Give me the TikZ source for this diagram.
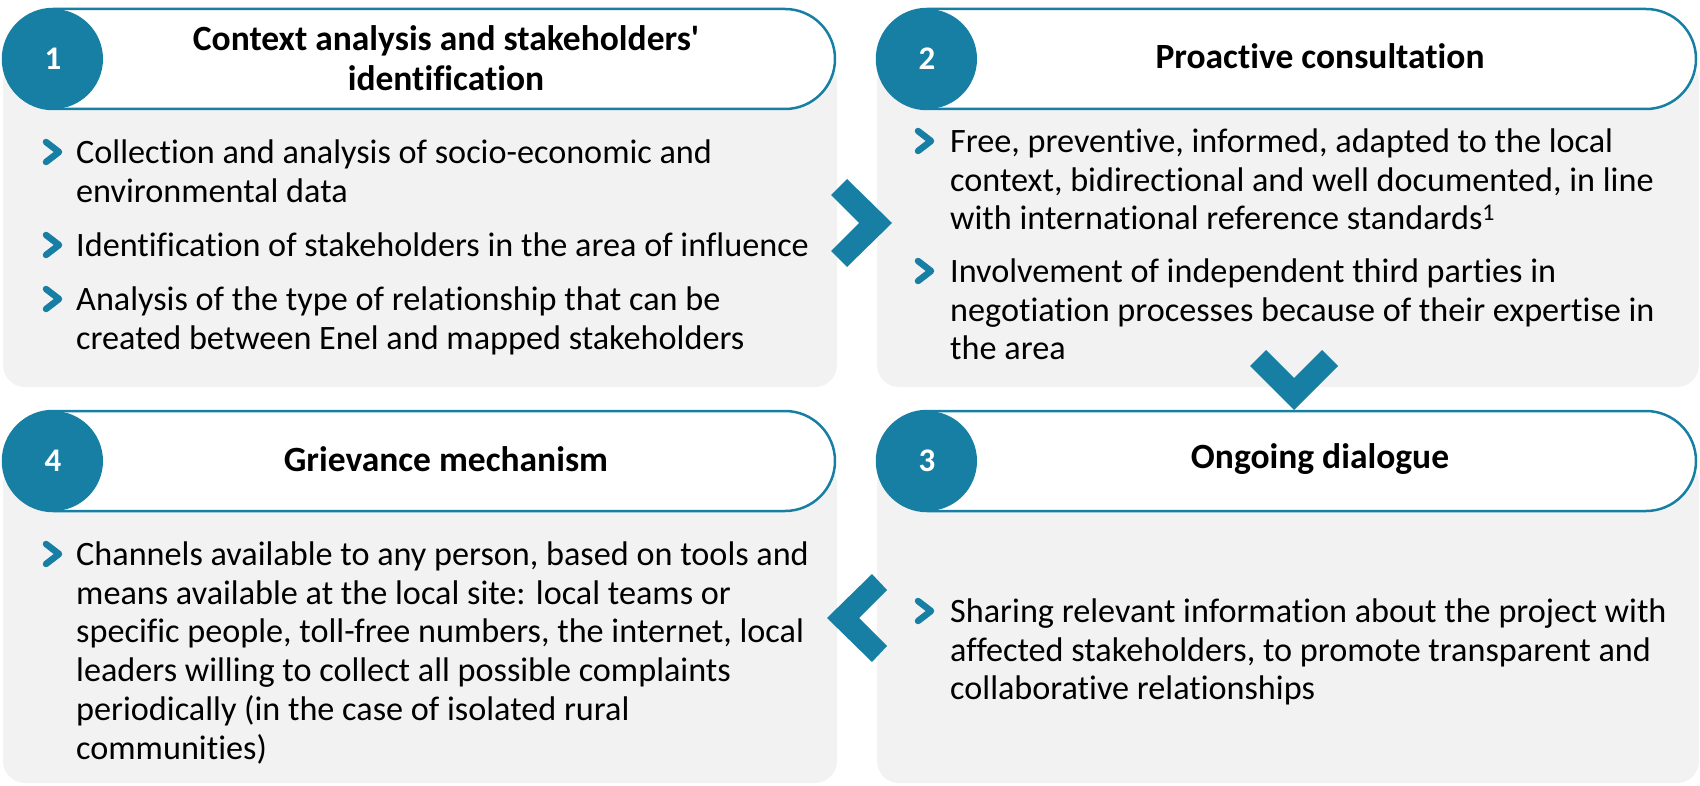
\documentclass[tikz,border=0pt]{standalone}
\usepackage{fontspec}
\setmainfont{Carlito}[Ligatures={TeX,NoCommon}]
\definecolor{stepteal}{RGB}{22,127,163}
\definecolor{cardgrey}{RGB}{242,242,242}
\tikzset{
  card/.style={fill=cardgrey,rounded corners=22pt},
  pill/.style={fill=white,draw=stepteal,line width=2.5pt,rounded corners=50pt},
  num/.style={circle,fill=stepteal,minimum size=100pt,inner sep=0pt,text=white,font=\fontsize{33}{36}\selectfont\bfseries},
  head/.style={align=center,inner sep=0pt,font=\fontsize{35.5}{39.5}\selectfont\bfseries},
  item/.style={anchor=north west,align=left,inner sep=0pt,font=\fontsize{34.2}{38.8}\selectfont},
  bul/.style={draw=stepteal,line width=6.5pt,line cap=round,line join=round},
  chev/.style={fill=stepteal}
}
\newcommand{\bulat}[2]{\draw[bul] (#1,#2-10) -- (#1+13,#2) -- (#1,#2+10);}
\begin{document}
\begin{tikzpicture}[x=1pt,y=-1pt]
\useasboundingbox (0,0) rectangle (1700,786);
\fill[card] (3,59) rectangle (837,387);
\fill[card] (877,59) rectangle (1699,387);
\fill[card] (3,461) rectangle (837,783);
\fill[card] (877,461) rectangle (1699,783);
\draw[pill] (3,9) rectangle (835,109);
\draw[pill] (877,9) rectangle (1696,109);
\draw[pill] (3,411) rectangle (835,511);
\draw[pill] (877,411) rectangle (1696,511);
\node[num] (n1) at (53,59) {1};
\node[num] (n2) at (927,59) {2};
\node[num] (n3) at (927,461) {3};
\node[num] (n4) at (53,461) {4};
\fill[chev] (892,223) -- (847,179) -- (831,195) -- (859,223) -- (831,251) -- (847,267) -- cycle;
\fill[chev] (1294,410) -- (1250,366) -- (1266,350) -- (1294,378) -- (1322,350) -- (1338,366) -- cycle;
\fill[chev] (827,618) -- (872,574) -- (887,590) -- (859,618) -- (887,646) -- (872,662) -- cycle;
\node[head] (h1) at (446,58) {Context analysis and stakeholders\textquotesingle\\identification};
\node[head] (h2) at (1320,56) {Proactive consultation};
\node[head] (h3) at (1320,459) {Ongoing dialogue};
\node[head] (h4) at (446,459) {Grievance mechanism};
\node[item] (t11) at (76,136) {\strut Collection and analysis of socio-economic and\\environmental data};
\node[item] (t12) at (76,229) {\strut Identification of stakeholders in the area of influence};
\node[item] (t13) at (76,283) {\strut Analysis of the type of relationship that can be\\created between Enel and mapped stakeholders};
\node[item] (t21) at (950,125) {\strut Free, preventive, informed, adapted to the local\\context, bidirectional and well documented, in line\\with international reference standards\textsuperscript{1}};
\node[item] (t22) at (950,255) {\strut Involvement of independent third parties in\\negotiation processes because of their expertise in\\the area};
\node[item] (t31) at (950,595) {\strut Sharing relevant information about the project with\\affected stakeholders, to promote transparent and\\collaborative relationships};
\node[item] (t41) at (76,538) {\strut Channels available to any person, based on tools and\\means available at the local site: local teams or\\specific people, toll-free numbers, the internet, local\\leaders willing to collect all possible complaints\\periodically (in the case of isolated rural\\communities)};
\bulat{46}{152}
\bulat{46}{245}
\bulat{46}{299}
\bulat{918}{141}
\bulat{918}{271}
\bulat{918}{611}
\bulat{46}{554}
\end{tikzpicture}
\end{document}
